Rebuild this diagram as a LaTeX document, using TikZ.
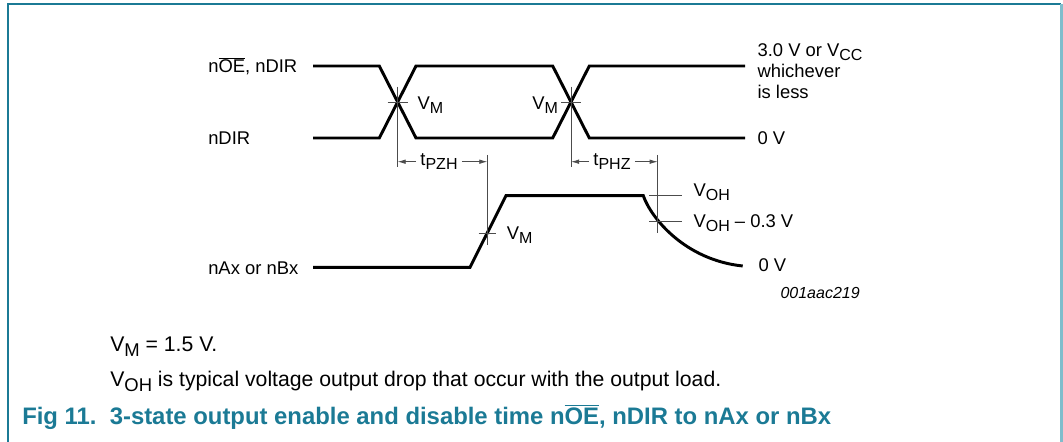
\documentclass[tikz,border=0pt]{standalone}
\usepackage{fontspec}
\setmainfont{Liberation Sans}
\usetikzlibrary{arrows.meta}
\definecolor{nxpteal}{HTML}{1B7A95}
\definecolor{nxplight}{HTML}{80BDCC}
\newcommand{\dn}[1]{\raisebox{-0.45ex}{\scalebox{0.87}{#1}}}

\begin{document}
\begin{tikzpicture}[x=0.75pt, y=-0.75pt, >={Latex[length=6pt,width=3.4pt]}]
    % Estilos
    \tikzset{wave/.style={line width=2.2pt, line join=miter},
             marker/.style={line width=0.6pt, black!70},
             lbl/.style={font=\fontsize{13.8}{16}\selectfont, inner sep=0pt},
             note/.style={font=\fontsize{15.9}{18}\selectfont, inner sep=0pt, anchor=base west}}
    \useasboundingbox (0,0) rectangle (1063,442);

    % --- MARCO ---
    \draw[nxpteal, line width=1.6pt] (8,442) -- (8,4) -- (1061,4);
    \draw[nxplight, line width=1.6pt] (1061.5,4) -- (1061.5,442);

    % --- COORDENADAS ---
    \coordinate (A0) at (313,66);     % nOE alto
    \coordinate (A1) at (379.3,66);
    \coordinate (A2) at (416,138);
    \coordinate (A3) at (552.7,138);
    \coordinate (A4) at (589.3,66);
    \coordinate (A5) at (745,66);
    \coordinate (B0) at (313,138);    % nDIR bajo
    \coordinate (B1) at (379.3,138);
    \coordinate (B2) at (416,66);
    \coordinate (B3) at (552.7,66);
    \coordinate (B4) at (589.3,138);
    \coordinate (B5) at (745,138);
    \coordinate (C1) at (397.65,102); % cruce V_M
    \coordinate (C2) at (571,102);    % cruce V_M
    \coordinate (D0) at (313,267.3);  % salida nAx/nBx
    \coordinate (D1) at (470,267.3);
    \coordinate (D2) at (506,195.7);
    \coordinate (D3) at (643.3,195.7);
    \coordinate (D4) at (742.7,266);
    \coordinate (VmB) at (487.3,232.9);

    % --- FORMAS DE ONDA ---
    \draw[wave] (A0) -- (A1) -- (A2) -- (A3) -- (A4) -- (A5);
    \draw[wave] (B0) -- (B1) -- (B2) -- (B3) -- (B4) -- (B5);
    \draw[wave] (D0) -- (D1) -- (D2) -- (D3) .. controls (651,218) and (685,260) .. (D4);

    % --- MARCAS ---
    \draw[marker] (C1 |- 0,86.7) -- (C1 |- 0,166.7);
    \draw[marker] ([xshift=-7.5pt]C1) -- ([xshift=7.5pt]C1);
    \draw[marker] (C2 |- 0,86.7) -- (C2 |- 0,166.7);
    \draw[marker] ([xshift=-7.5pt]C2) -- ([xshift=7.5pt]C2);
    \draw[marker] (487.3,155) -- (487.3,245);
    \draw[marker] ([xshift=-6.5pt]VmB) -- ([xshift=6.5pt]VmB);
    \draw[marker] (657.7,155) -- (657.7,233);
    \draw[marker] (649.3,195) -- (681.7,195);
    \draw[marker] (649.3,221) -- (681.7,221);

    % --- TIEMPOS ---
    \coordinate (PzhL) at (C1 |- 0,161.7);
    \coordinate (PzhR) at (487.3,161.7);
    \coordinate (PhzL) at (C2 |- 0,161.7);
    \coordinate (PhzR) at (657.7,161.7);
    \node[lbl, inner xsep=3pt] (tpzh) at (439,161.7) {t\dn{PZH}};
    \node[lbl, inner xsep=3pt] (tphz) at (612,161.7) {t\dn{PHZ}};
    \draw[marker, ->] (tpzh.west) -- (PzhL);
    \draw[marker, ->] (tpzh.east) -- (PzhR);
    \draw[marker, ->] (tphz.west) -- (PhzL);
    \draw[marker, ->] (tphz.east) -- (PhzR);

    % --- ETIQUETAS ---
    \node[lbl, anchor=base west] (noe) at (208,73) {n$\overline{\mbox{OE}}$, nDIR};
    \node[lbl, anchor=base west] (ndir) at (208,145) {nDIR};
    \node[lbl, anchor=base west] (nax) at (208,274.3) {nAx or nBx};
    \node[lbl, anchor=west] (vm1) at (417.3,105) {V\dn{M}};
    \node[lbl, anchor=east] (vm2) at (558.3,105) {V\dn{M}};
    \node[lbl, anchor=west] (vm3) at (506.7,235.3) {V\dn{M}};
    \node[lbl, anchor=west] (voh) at (693.3,192.5) {V\dn{OH}};
    \node[lbl, anchor=west] (voh3) at (693.3,223) {V\dn{OH} -- 0.3 V};
    \node[lbl, anchor=north west, align=left] (vcc) at (757.3,43)
        {3.0 V or V\dn{CC}\\whichever\\is less};
    \node[lbl, anchor=base west] (zero1) at (757.3,145) {0 V};
    \node[lbl, anchor=base west] (zero2) at (758.3,271) {0 V};
    \node[lbl, anchor=base east, font=\fontsize{12}{14}\selectfont\itshape] (code) at (860,298.3) {001aac219};

    % --- NOTAS Y TITULO ---
    \node[note] (n1) at (110,351.7) {V\dn{M} = 1.5 V.};
    \node[note] (n2) at (110,386.7) {V\dn{OH} is typical voltage output drop that occur with the output load.};
    \node[note, text=nxpteal, font=\fontsize{17.9}{20}\selectfont\bfseries] (cap) at (22,424)
        {Fig 11.\ \ 3-state output enable and disable time n$\overline{\mbox{OE}}$, nDIR to nAx or nBx};
\end{tikzpicture}
\end{document}
